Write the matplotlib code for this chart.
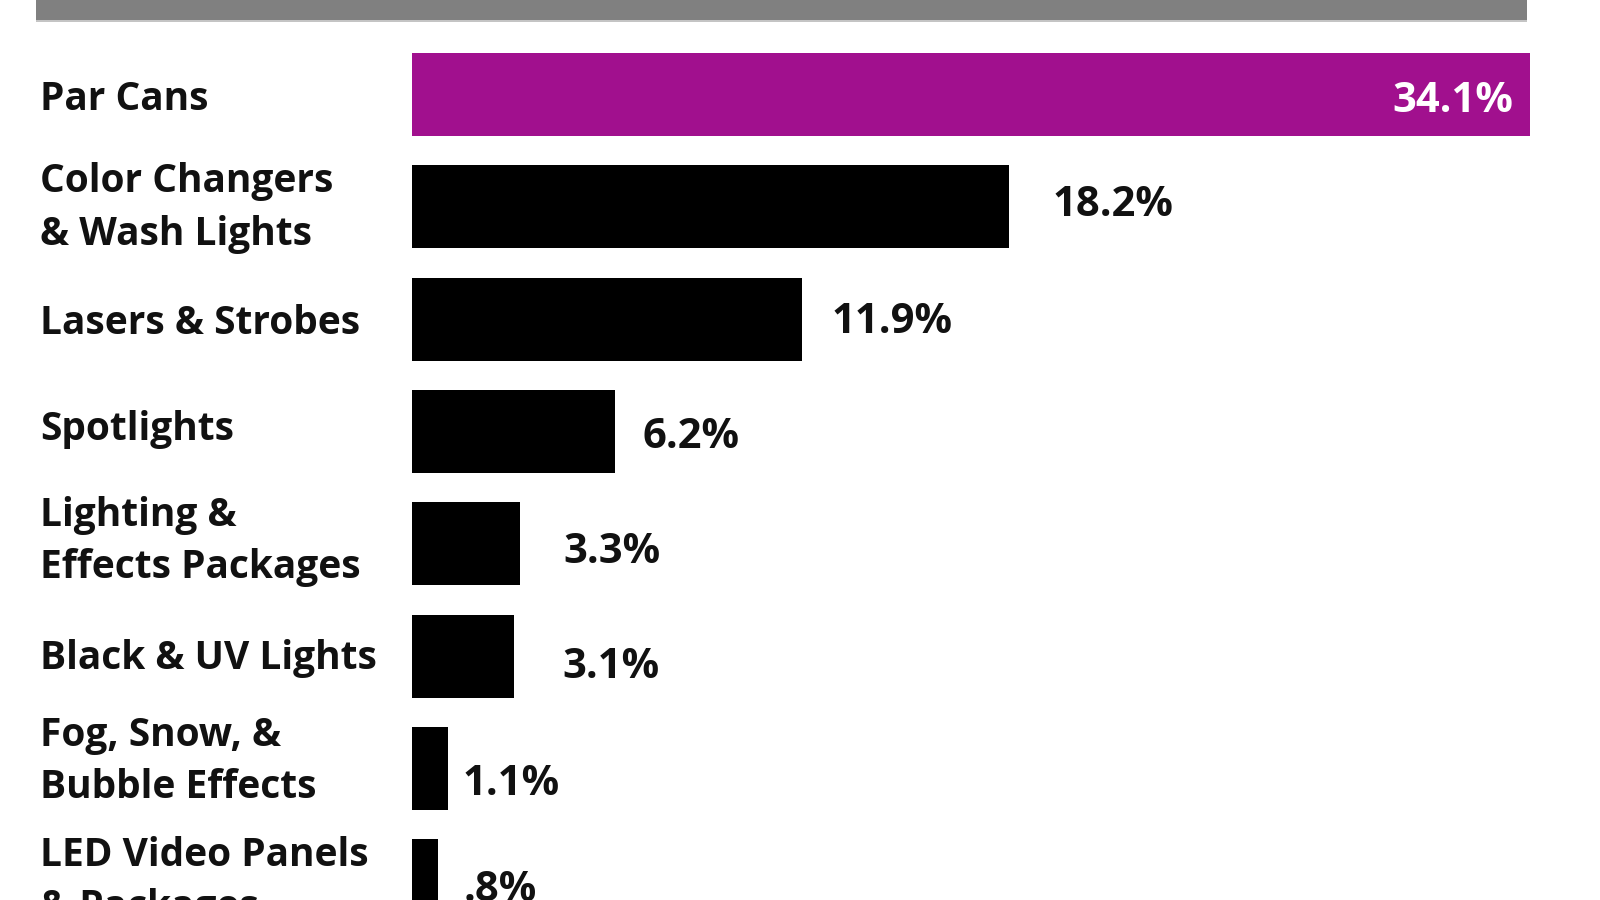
import matplotlib
matplotlib.use("Agg")
import matplotlib.pyplot as plt
from matplotlib.patches import Rectangle
from matplotlib.transforms import blended_transform_factory

# data
categories = ["Par Cans", "Color Changers\n& Wash Lights", "Lasers & Strobes",
              "Spotlights", "Lighting &\nEffects Packages", "Black & UV Lights",
              "Fog, Snow, &\nBubble Effects", "LED Video Panels\n& Packages"]
shares = [34.1, 18.2, 11.9, 6.2, 3.3, 3.1, 1.1, 0.8]
value_labels = ["34.1%", "18.2%", "11.9%", "6.2%", "3.3%", "3.1%", "1.1%", ".8%"]

purple = "#a1108e"
bar_colors = [purple] + ["black"] * 7

# label placement quirks of the original (pixels)
label_gap = [-17, 44, 29, 27, 43, 49, 14, 25]
label_drop = [7, -1, 3, 6, 9, 11, 16, 10]
cat_drop = [5, 1, 4, -2, -2, 2, -7, 1]

plt.rcParams['font.family'] = ['Open Sans', 'DejaVu Sans']
plt.rcParams['font.weight'] = 'bold'

W, H = 1600, 900
fig = plt.figure(figsize=(16, 9), dpi=100)

x0, x1 = 412, 1530
pitch = 112.3
first_center = 94.5
ax = fig.add_axes([x0 / W, 0, (x1 - x0) / W, 1])
ypos = list(range(len(shares)))
ax.barh(ypos, shares, height=83 / pitch, color=bar_colors, edgecolor='none')
ax.set_xlim(0, shares[0])
ax.set_ylim((H - first_center) / pitch, -first_center / pitch)
ax.axis('off')

trans = blended_transform_factory(fig.transFigure, ax.transData)
for i, cat in enumerate(categories):
    ax.annotate(cat, (40 / W, i), xycoords=trans, xytext=(0, -cat_drop[i] * 0.72),
                textcoords='offset points', ha='left', va='center',
                fontsize=28, color='#111111', linespacing=1.45)

for i, (v, lbl) in enumerate(zip(shares, value_labels)):
    if i == 0:
        ax.annotate(lbl, (v, i), xytext=(label_gap[i] * 0.72, -label_drop[i] * 0.72),
                    textcoords='offset points', ha='right', va='center',
                    fontsize=30, color='white')
    else:
        ax.annotate(lbl, (v, i), xytext=(label_gap[i] * 0.72, -label_drop[i] * 0.72),
                    textcoords='offset points', ha='left', va='center',
                    fontsize=30, color='#111111')

# grey title banner, cut off by the crop
fig.add_artist(Rectangle((36 / W, 1 - 20 / H), (1527 - 36) / W, 20 / H,
                         transform=fig.transFigure, color='#808080', lw=0))
fig.add_artist(Rectangle((36 / W, 1 - 22 / H), (1527 - 36) / W, 2 / H,
                         transform=fig.transFigure, color='#c4c4c4', lw=0))

fig.savefig("out.png", dpi=100, facecolor='white')
